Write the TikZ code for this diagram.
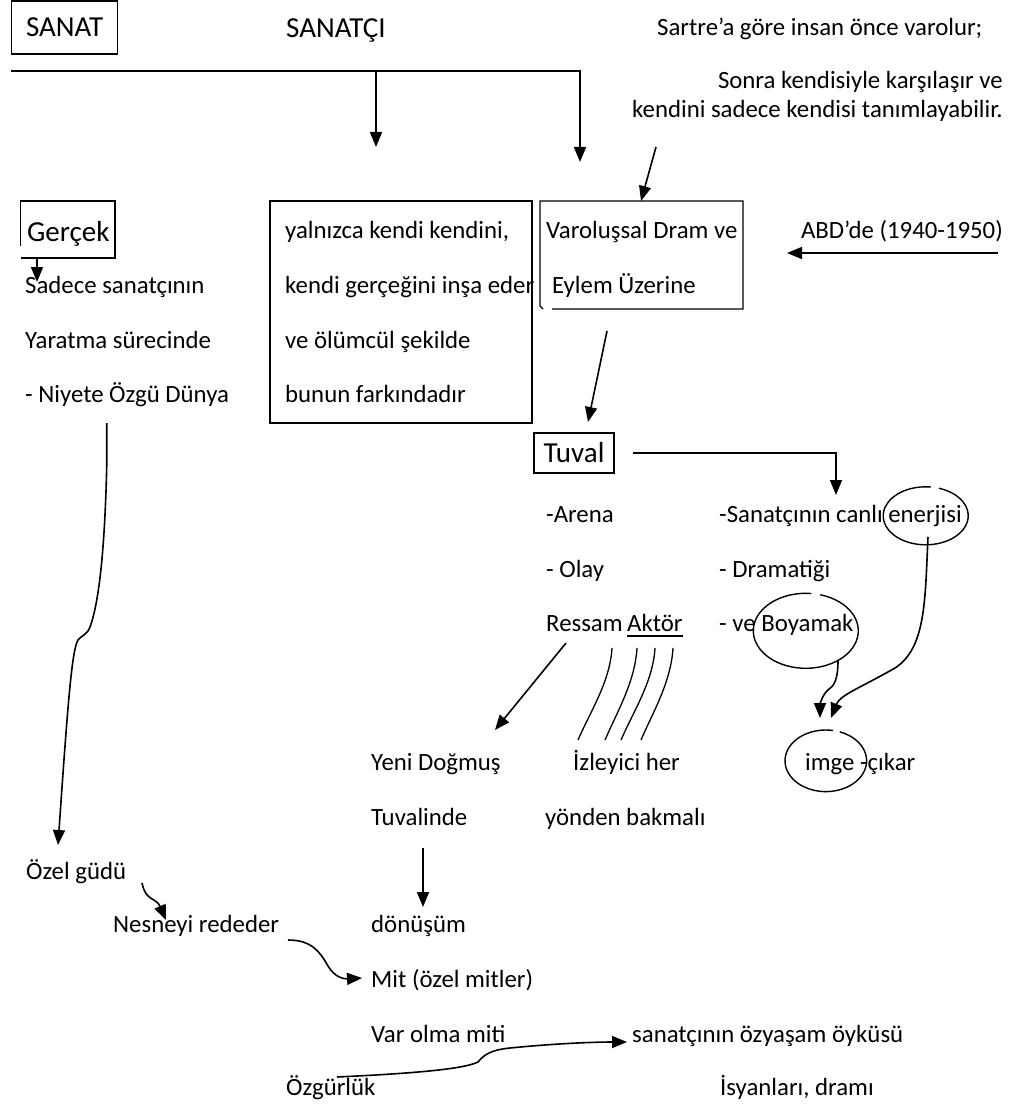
\documentclass[tikz,border=0pt]{standalone}
\usepackage{fontspec}
\setmainfont{Carlito}
\usetikzlibrary{arrows.meta}
\begin{document}
\begin{tikzpicture}[x=1pt,y=-1pt,
  txt/.style={font=\fontsize{24.8}{30}\selectfont, inner sep=0pt, anchor=base west},
  txtr/.style={txt, anchor=base east},
  ttl/.style={font=\fontsize{29}{35}\selectfont, inner sep=0pt},
  ln/.style={line width=1.6pt},
  arr/.style={ln, -{Triangle[width=12pt,length=15pt]}},
  frame/.style={draw, line width=1.4pt},
  ring/.style={line width=1.4pt},
  stroke/.style={line width=1.3pt}]
\useasboundingbox (0,0) rectangle (1015,1107);

% --- heading row ---
\node[frame, ttl, minimum width=106pt, minimum height=53pt] (sanat) at (64.7,27.5) {SANAT};
\node[ttl, anchor=base west] (sanatci) at (286,38) {SANATÇI};
\node[txt] (sartre) at (657,36) {Sartre’a göre insan önce varolur;};
\node[txtr] (sonra) at (1003,89) {Sonra kendisiyle karşılaşır ve};
\node[txtr] (kendini) at (1003,118) {kendini sadece kendisi tanımlayabilir.};

% --- bar under the heading with its two drops ---
\coordinate (barL) at (11,71);
\coordinate (barM) at (376,71);
\coordinate (barR) at (580,71);
\coordinate (tipM) at (376,147);
\coordinate (tipR) at (580,162);
\draw[arr] (barL) -- (barR) -- (tipR);
\draw[arr] (barM) -- (tipM);

% --- Gerçek column ---
\node[ttl, anchor=base west] (gercek) at (27,241) {Gerçek};
\draw[frame] (20.7,246) -- (20.7,201) -- (115,201) -- (115,258) -- (20.7,258);
\coordinate (gkA) at (37,258);
\coordinate (gkB) at (37,282);
\draw[arr] (gkA) -- (gkB);
\node[txt] (sadece) at (25,293) {Sadece sanatçının};
\node[txt] (yaratma) at (25,348) {Yaratma sürecinde};
\node[txt] (niyete) at (25,402) {- Niyete Özgü Dünya};

% --- self-construction box ---
\node[frame, minimum width=262pt, minimum height=222pt] (selfbox) at (401,312) {};
\node[txt] (y1) at (285,239) {yalnızca kendi kendini,};
\node[txt] (y2) at (285,293) {kendi gerçeğini inşa eder};
\node[txt] (y3) at (285,348) {ve ölümcül şekilde};
\node[txt] (y4) at (285,402) {bunun farkındadır};

% --- existential drama box ---
\draw[frame] (552,309) -- (743,309) -- (743,201) -- (540,201) -- (540,306) -- (543,309);
\node[txt] (v1) at (546,239) {Varoluşsal Dram ve};
\node[txt] (v2) at (552,293) {Eylem Üzerine};
\coordinate (qa) at (656,147);
\coordinate (qb) at (641,201);
\draw[arr] (qa) -- (qb);

\node[txtr] (abd) at (1003,239) {ABD’de (1940-1950)};
\coordinate (abdA) at (998,253);
\coordinate (abdB) at (787,253);
\draw[arr] (abdA) -- (abdB);

% --- canvas ---
\coordinate (vtA) at (607,331);
\coordinate (vtB) at (588,422);
\draw[arr] (vtA) -- (vtB);
\node[frame, ttl, minimum width=80pt, minimum height=40pt] (tuval) at (574,453) {Tuval};
\coordinate (tvA) at (633,453);
\coordinate (tvC) at (836,453);
\coordinate (tvB) at (836,495);
\draw[arr] (tvA) -- (tvC) -- (tvB);

\node[txt] (arena) at (546,522) {-Arena};
\node[txt] (olay) at (546,577) {- Olay};
\node[txt] (ressam) at (546,631) {Ressam};
\node[txt] (aktor) at (627,631) {Aktör};
\draw[stroke] ([yshift=-5pt]aktor.base west) -- ([yshift=-5pt]aktor.base east);

\node[txt] (enerji) at (719,522) {-Sanatçının canlı enerjisi};
\node[txt] (drama) at (719,577) {- Dramatiği};
\node[txt] (boya) at (719,631) {- ve Boyamak};

% hand-drawn rings
\draw[ring] (925.7,515.8) ++(-72:42.5 and 29) arc[start angle=-72, end angle=277, x radius=42.5, y radius=29];
\draw[ring] (805.8,630.8) ++(-74:52.5 and 37.5) arc[start angle=-74, end angle=276, x radius=52.5, y radius=37.5];
\draw[ring] (825.8,760.8) ++(-70:40.8 and 30.8) arc[start angle=-70, end angle=280, x radius=40.8, y radius=30.8];

\node[txt] (imge) at (805,770) {imge -çıkar};

\coordinate (byA) at (838,660);
\coordinate (byB) at (820,718);
\draw[arr] (byA) .. controls (838,680) and (834,686) .. (828,690)
  .. controls (822,695) and (820,705) .. (byB);
\coordinate (enA) at (928,537);
\coordinate (enB) at (831,718);
\draw[arr] (enA) .. controls (925,600) and (926,648) .. (895,668)
  .. controls (860,688) and (840,695) .. (enB);

% painter / viewer
\coordinate (rsA) at (566,643);
\coordinate (rsB) at (495,730);
\draw[arr] (rsA) -- (rsB);
\foreach \t/\b in {612/578, 637/605, 655/621, 673/641}
  \draw[stroke] (\t,648) .. controls (\t-2,682) and (\b+12,712) .. (\b,740);

\node[txt] (yeni) at (371,770) {Yeni Doğmuş};
\node[txt] (izleyici) at (573,770) {İzleyici her};
\node[txt] (tuvalinde) at (371,825) {Tuvalinde};
\node[txt] (yonden) at (545,825) {yönden bakmalı};

\coordinate (tdA) at (423,848);
\coordinate (tdB) at (423,907);
\draw[arr] (tdA) -- (tdB);

% --- long path down the left side ---
\coordinate (nyA) at (106.7,423);
\coordinate (nyB) at (58,845);
\draw[arr] (nyA) -- (106.7,467) .. controls (105,540) and (100,600) .. (90,627)
  .. controls (87,635) and (82,635) .. (78,640)
  .. controls (72,650) and (68,700) .. (nyB);

\node[txt] (ozel) at (26,879) {Özel güdü};
\node[txt] (nesne) at (113,932) {Nesneyi rededer};
\coordinate (ogA) at (142,883);
\coordinate (ogB) at (166,920);
\draw[arr] (ogA) .. controls (146,902) and (156,897) .. (ogB);

\node[txt] (donusum) at (371,932) {dönüşüm};
\node[txt] (mit) at (371,987) {Mit (özel mitler)};
\node[txt] (varolma) at (371,1042) {Var olma miti};
\coordinate (nmA) at (288,940);
\coordinate (nmB) at (362,978);
\draw[arr] (nmA) .. controls (312,940) and (320,952) .. (328,966)
  .. controls (335,978) and (345,979) .. (nmB);

\node[txt] (ozgur) at (286,1095) {Özgürlük};
\node[txt] (oyku) at (632,1042) {sanatçının özyaşam öyküsü};
\node[txt] (isyan) at (720,1095) {İsyanları, dramı};
\coordinate (ozA) at (337,1077);
\coordinate (ozB) at (627,1042);
\draw[arr] (ozA) .. controls (400,1074) and (462,1070) .. (478,1062)
  .. controls (484,1055) and (490,1050) .. (510,1048)
  .. controls (550,1044) and (590,1042) .. (ozB);
\end{tikzpicture}
\end{document}
